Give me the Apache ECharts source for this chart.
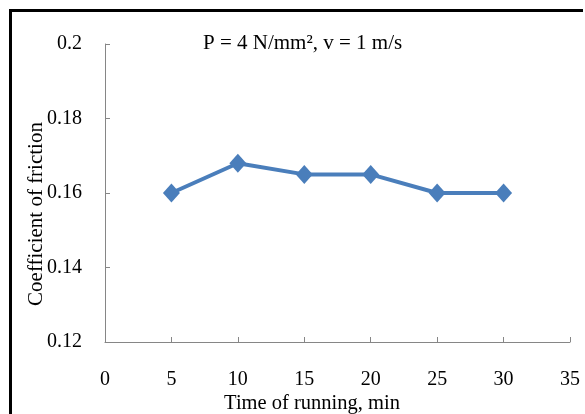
<!DOCTYPE html>
<html>
<head>
<meta charset="utf-8">
<script src="https://cdn.jsdelivr.net/npm/echarts@6/dist/echarts.min.js"></script>
<style>
html,body{margin:0;padding:0;background:#fff;overflow:hidden;}
#chart{width:585px;height:414px;}
</style>
</head>
<body>
<div id="chart"></div>
<script>
const times = [5, 10, 15, 20, 25, 30];
const friction = [0.160, 0.168, 0.165, 0.165, 0.160, 0.160];
const titleText = 'P = 4 N/mm², v = 1 m/s';
const xName = 'Time of running, min';
const yName = 'Coefficient of friction';

const font = 'Liberation Serif';
const chart = echarts.init(document.getElementById('chart'));
chart.setOption({
  animation: false,
  backgroundColor: '#fff',
  grid: {left: 105, right: 15, top: 44, bottom: 72, outerBoundsMode: 'none', containLabel: false},
  xAxis: {
    type: 'value', min: 0, max: 35, interval: 5,
    axisLine: {show: true, lineStyle: {color: '#868686', width: 1}},
    axisTick: {show: true, inside: true, length: 5, lineStyle: {color: '#868686'}},
    axisLabel: {fontFamily: font, fontSize: 20, color: '#000', margin: 28},
    splitLine: {show: false}
  },
  yAxis: {
    type: 'value', min: 0.12, max: 0.2, interval: 0.02,
    axisLine: {show: true, lineStyle: {color: '#868686', width: 1}},
    axisTick: {show: true, inside: true, length: 5, lineStyle: {color: '#868686'}},
    axisLabel: {fontFamily: font, fontSize: 20, color: '#000', margin: 23,
      formatter: v => String(parseFloat(v.toFixed(3)))},
    splitLine: {show: false}
  },
  graphic: [
    {type: 'text', left: 203, top: 33, style: {text: titleText, font: '21px "Liberation Serif"', fill: '#000'}},
    {type: 'text', x: 36, y: 214, rotation: Math.PI / 2,
      style: {text: yName, font: '21px "Liberation Serif"', fill: '#000', align: 'center', verticalAlign: 'middle'}},
    {type: 'text', x: 312, y: 404,
      style: {text: xName, font: '20.5px "Liberation Serif"', fill: '#000', align: 'center', verticalAlign: 'middle'}},
    {type: 'rect', shape: {x: 9, y: 9, width: 574, height: 3}, style: {fill: '#000'}},
    {type: 'rect', shape: {x: 9, y: 9, width: 3, height: 405}, style: {fill: '#000'}}
  ],
  series: [{
    type: 'line',
    data: times.map((t, i) => [t, friction[i]]),
    symbol: 'diamond', symbolSize: [17, 19],
    lineStyle: {color: '#4A7EBB', width: 4},
    itemStyle: {color: '#4A7EBB'}
  }]
});
</script>
</body>
</html>
